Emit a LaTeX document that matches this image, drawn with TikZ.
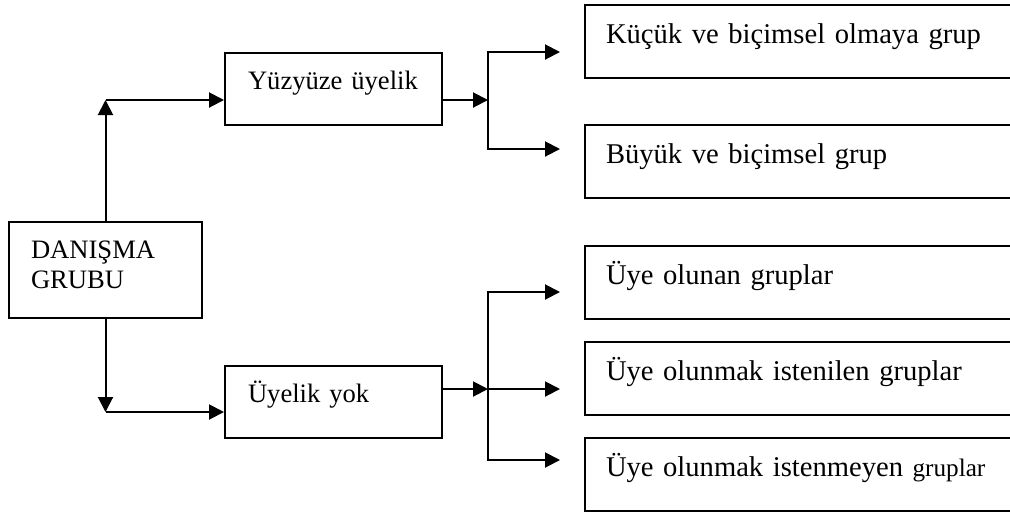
\documentclass[tikz,border=0pt]{standalone}
\usepackage{fontspec}
\setmainfont{Liberation Serif}
\usetikzlibrary{arrows.meta}

\begin{document}
\begin{tikzpicture}[x=0.5pt, y=-0.5pt, font=\fontsize{13.3}{15}\selectfont,
  box/.style={draw, line width=1pt, anchor=north west, align=left, inner ysep=0pt,
    text height=18pt, text depth=18pt},
  lbox/.style={box, inner xsep=11.5pt, text width=85.5pt},
  rbox/.style={box, font=\fontsize{14.3}{16}\selectfont, inner xsep=10.5pt, text width=215pt,
    text height=19pt, text depth=17.25pt},
  arr/.style={line width=1pt, -{Triangle[length=7.5pt, width=7.5pt]}}]
\clip (0,0) rectangle (1010,511);
% left side
\node[box, inner xsep=11pt, text width=74.5pt, text depth=30pt] (danisma) at (8,221) {DANIŞMA\\GRUBU};
\node[lbox] (yuz) at (224,52) {Yüzyüze üyelik};
\node[lbox] (yok) at (224,365) {Üyelik yok};
% right side
\foreach \nm/\y/\txt in {kucuk/4/Küçük ve biçimsel olmaya grup,
    buyuk/124/Büyük ve biçimsel grup,
    olunan/245/Üye olunan gruplar,
    istenilen/341/Üye olunmak istenilen gruplar,
    istenmeyen/437/Üye olunmak istenmeyen {\fontsize{12.6}{14}\selectfont gruplar}}
  \node[rbox] (\nm) at (584,\y) {\txt};
% upper branch
\coordinate (up) at (danisma.north |- 0,100);
\draw[arr] (danisma.north) -- (up);
\draw[arr] (up) -- (up -| yuz.west);
\coordinate (fork1) at (488,100);
\draw[arr] (yuz.east |- fork1) -- (fork1);
\draw[arr, shorten >=12pt] (fork1) |- (kucuk.west |- 0,52);
\draw[arr, shorten >=12pt] (fork1) |- (buyuk.west |- 0,149);
% lower branch
\coordinate (dn) at (danisma.south |- 0,412);
\draw[arr] (danisma.south) -- (dn);
\draw[arr] (dn) -- (dn -| yok.west);
\coordinate (fork2) at (488,389);
\draw[arr] (yok.east |- fork2) -- (fork2);
\draw[arr, shorten >=12pt] (fork2) |- (olunan.west |- 0,292);
\draw[arr, shorten >=12pt] (fork2) -- (fork2 -| istenilen.west);
\draw[arr, shorten >=12pt] (fork2) |- (istenmeyen.west |- 0,460);
\end{tikzpicture}
\end{document}
